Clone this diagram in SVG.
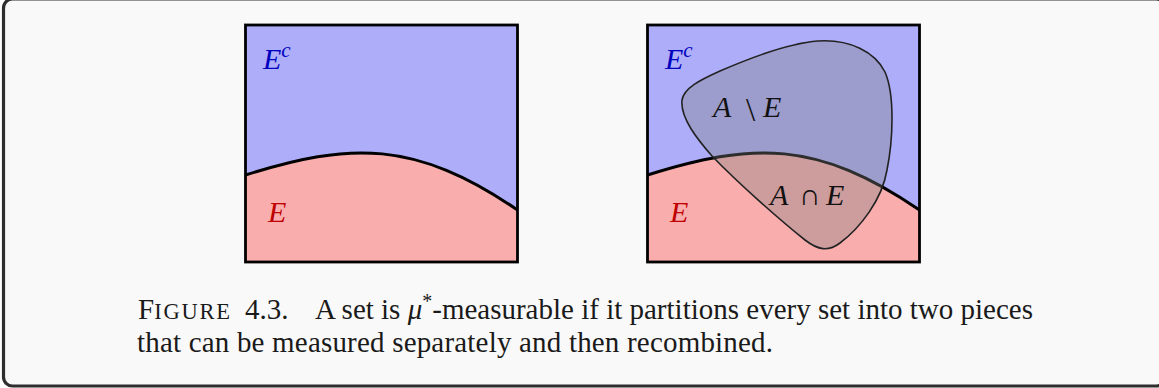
<svg xmlns="http://www.w3.org/2000/svg" width="1159" height="388" viewBox="0 0 1159 388">
<style>
.frame{fill:#f9f9f9;stroke:#2e2e2e;stroke-width:3.2}
.blue{fill:#adadf9}
.red{fill:#f9adad}
.bd{fill:none;stroke:#000;stroke-width:2.8}
.ecurve{fill:none;stroke:#000;stroke-width:3}
.blob{fill:#808080;fill-opacity:0.36;stroke:#222;stroke-width:1.6}
.lab{font-family:"Liberation Serif",serif;font-style:italic;font-size:30px}
.lb{fill:#0000bf}
.lr{fill:#bf0000}
.lk{fill:#111}
.cap{font-family:"Liberation Serif",serif;font-size:29px;fill:#1a1a1a}
</style>
<rect width="1159" height="388" fill="#ffffff"/>
<rect class="frame" x="3.5" y="-1" width="1162" height="387" rx="9"/>
<g id="panel-left">
<rect class="blue" x="245.5" y="25" width="272" height="237"/>
<path class="red" d="M245.5,175 C350,142 415,140 517.5,210 L517.5,262 L245.5,262 Z"/>
<path class="ecurve" d="M245.5,175 C350,142 415,140 517.5,210"/>
<rect class="bd" x="245.5" y="25" width="272" height="237"/>
<text class="lab lb" x="263" y="69">E<tspan font-size="21" dy="-12">c</tspan></text>
<text class="lab lr" x="268" y="222">E</text>
</g>
<g id="panel-right">
<rect class="blue" x="647.5" y="25" width="272" height="237"/>
<path class="red" d="M647.5,175 C752,142 817,140 919.5,210 L919.5,262 L647.5,262 Z"/>
<path class="ecurve" d="M647.5,175 C752,142 817,140 919.5,210"/>
<g id="set-A">
<path class="blob" d="M682,100 C684,88 700,80 720,71 C750,58 790,43 818,41 C850,39 875,52 885,72 C895,95 893,140 887,170 C882,200 860,228 840,243 C828,252 818,250 805,240 C780,220 740,185 712,156 C698,140 680,118 682,100 Z"/>
</g>
<rect class="bd" x="647.5" y="25" width="272" height="237"/>
<text class="lab lb" x="665" y="69">E<tspan font-size="21" dy="-12">c</tspan></text>
<text class="lab lr" x="670" y="222">E</text>
<text class="lab lk" y="117"><tspan x="713">A</tspan><tspan x="746" font-style="normal" font-size="33" dy="4">\</tspan><tspan x="763" dy="-4">E</tspan></text>
<text class="lab lk" y="205"><tspan x="770">A</tspan><tspan x="799" font-style="normal">∩</tspan><tspan x="826">E</tspan></text>
</g>
<g id="caption">
<text class="cap" y="319"><tspan x="138">F</tspan><tspan font-size="22.5" letter-spacing="1.8">IGURE</tspan><tspan x="245">4.3.</tspan><tspan x="315">A set is </tspan><tspan font-style="italic">μ</tspan><tspan font-size="20" dy="-11">*</tspan><tspan dy="11">-measurable if it partitions every set into two pieces</tspan></text>
<text class="cap" x="137" y="351.5" textLength="636">that can be measured separately and then recombined.</text>
</g>
</svg>
